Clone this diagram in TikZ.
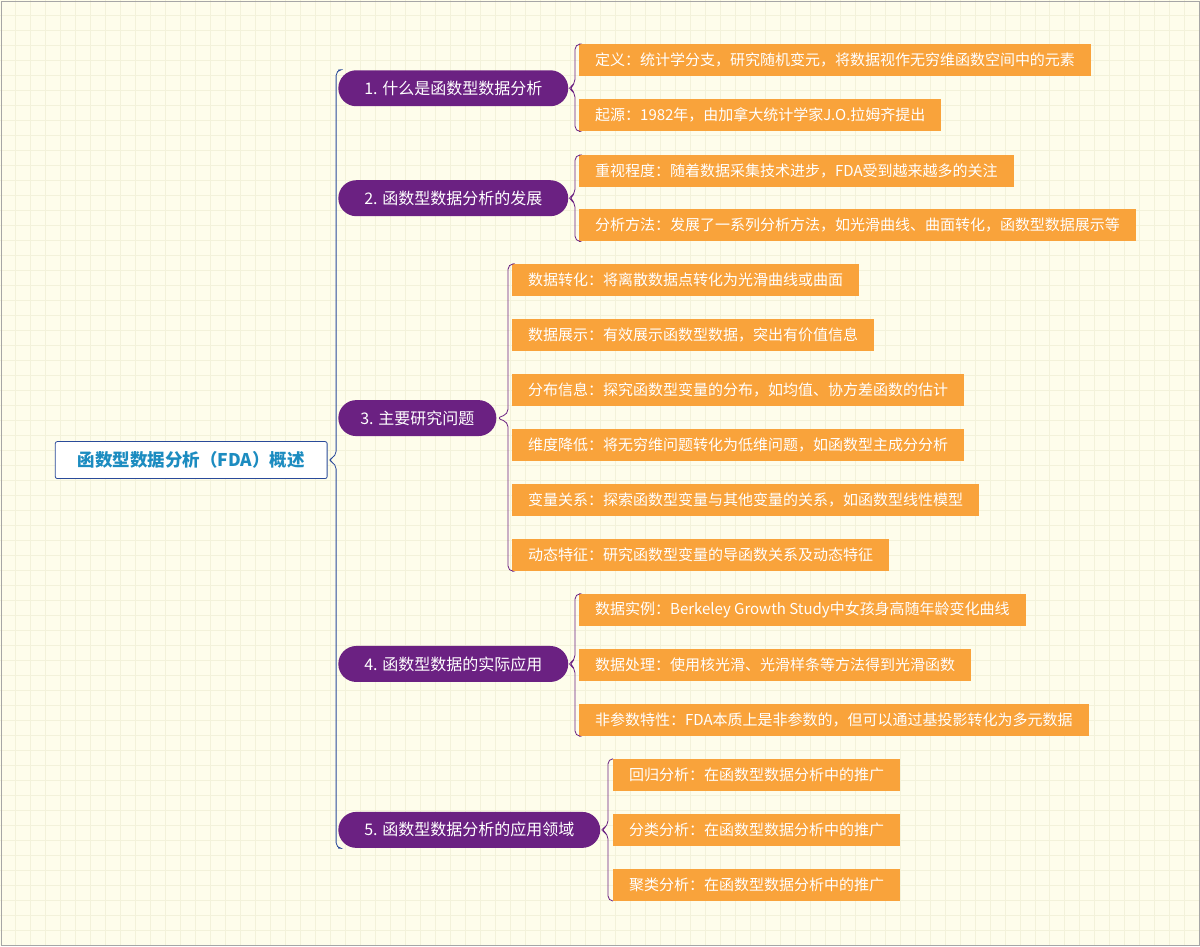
\documentclass[tikz,border=0pt]{standalone}
\usepackage{fontspec}
\setmainfont{Noto Sans CJK SC}
\usetikzlibrary{positioning}
\definecolor{bgyel}{HTML}{FEFDEB}
\definecolor{gridc}{HTML}{F3F2DA}
\definecolor{mainblue}{HTML}{2A4A9A}
\definecolor{rootblue}{HTML}{1C8CC0}
\definecolor{branchpur}{HTML}{6B2182}
\definecolor{leaforg}{HTML}{F9A33B}
\tikzstyle{root} = [rectangle,draw=mainblue,fill=white,rounded corners=2pt,thick,minimum width=272pt,minimum height=37pt,text=rootblue,font=\fontsize{17.5}{20}\selectfont\bfseries]
\tikzstyle{branch} = [rectangle,fill=branchpur,rounded corners=18pt,minimum height=36pt,text=white,anchor=west,inner xsep=22pt,font=\fontsize{16}{18}\selectfont]
\tikzstyle{leaf} = [rectangle,fill=leaforg,minimum height=32pt,text=white,anchor=west,inner xsep=16pt,font=\fontsize{15}{17}\selectfont]
\tikzstyle{mainline} = [draw=mainblue,thick,rounded corners=5pt]
\tikzstyle{subline} = [draw=branchpur,thick,rounded corners=5pt]

\begin{document}
\begin{tikzpicture}[x=1pt,y=-1pt]

 	% background
 	\fill[bgyel] (0,0) rectangle (1200,946);
 	\foreach \i in {15,30,...,1190} {\draw[gridc,line width=0.6pt] (\i,0) -- (\i,946);}
 	\foreach \j in {15,30,...,940} {\draw[gridc,line width=0.6pt] (0,\j) -- (1200,\j);}
 	\draw[gray!70] (0.5,0.5) rectangle (1199.5,945.5);

 	% root and branches
 	\node (root) [root] at (191,460) {函数型数据分析（FDA）概述};
 	\node (B1) [branch,minimum width=230pt] at (338,88) {1. 什么是函数型数据分析};
 	\node (B2) [branch,minimum width=230pt] at (338,198) {2. 函数型数据分析的发展};
 	\node (B3) [branch,minimum width=152pt] at (338,418) {3. 主要研究问题};
 	\node (B4) [branch,minimum width=230pt] at (338,664) {4. 函数型数据的实际应用};
 	\node (B5) [branch,minimum width=262pt] at (338,830) {5. 函数型数据分析的应用领域};

 	\draw[mainline] (B1.north west) -- (336,70) -- (336,456) -- (root.east) -- (336,464) -- (336,848) -- (B5.south west);

 	% 1
 	\node (L11) [leaf] at (579,60) {定义：统计学分支，研究随机变元，将数据视作无穷维函数空间中的元素};
 	\node (L12) [leaf] at (579,115) {起源：1982年，由加拿大统计学家J.O.拉姆齐提出};
 	\draw[subline] (L11.north west) -- (575,44) -- (575,84) -- (B1.east) -- (575,92) -- (575,131) -- (L12.south west);

 	% 2
 	\node (L21) [leaf] at (579,171) {重视程度：随着数据采集技术进步，FDA受到越来越多的关注};
 	\node (L22) [leaf] at (579,225) {分析方法：发展了一系列分析方法，如光滑曲线、曲面转化，函数型数据展示等};
 	\draw[subline] (L21.north west) -- (575,155) -- (575,194) -- (B2.east) -- (575,202) -- (575,241) -- (L22.south west);

 	% 3
 	\node (L31) [leaf] at (512,280) {数据转化：将离散数据点转化为光滑曲线或曲面};
 	\node (L32) [leaf] at (512,335) {数据展示：有效展示函数型数据，突出有价值信息};
 	\node (L33) [leaf] at (512,390) {分布信息：探究函数型变量的分布，如均值、协方差函数的估计};
 	\node (L34) [leaf] at (512,445) {维度降低：将无穷维问题转化为低维问题，如函数型主成分分析};
 	\node (L35) [leaf] at (512,500) {变量关系：探索函数型变量与其他变量的关系，如函数型线性模型};
 	\node (L36) [leaf] at (512,555) {动态特征：研究函数型变量的导函数关系及动态特征};
 	\draw[subline] (L31.north west) -- (508,264) -- (508,414) -- (B3.east) -- (508,422) -- (508,571) -- (L36.south west);

 	% 4
 	\node (L41) [leaf] at (579,610) {数据实例：Berkeley Growth Study中女孩身高随年龄变化曲线};
 	\node (L42) [leaf] at (579,665) {数据处理：使用核光滑、光滑样条等方法得到光滑函数};
 	\node (L43) [leaf] at (579,720) {非参数特性：FDA本质上是非参数的，但可以通过基投影转化为多元数据};
 	\draw[subline] (L41.north west) -- (575,594) -- (575,660) -- (B4.east) -- (575,668) -- (575,736) -- (L43.south west);

 	% 5
 	\node (L51) [leaf] at (613,775) {回归分析：在函数型数据分析中的推广};
 	\node (L52) [leaf] at (613,830) {分类分析：在函数型数据分析中的推广};
 	\node (L53) [leaf] at (613,885) {聚类分析：在函数型数据分析中的推广};
 	\draw[subline] (L51.north west) -- (608,759) -- (608,826) -- (B5.east) -- (608,834) -- (608,901) -- (L53.south west);
\end{tikzpicture}
\end{document}
